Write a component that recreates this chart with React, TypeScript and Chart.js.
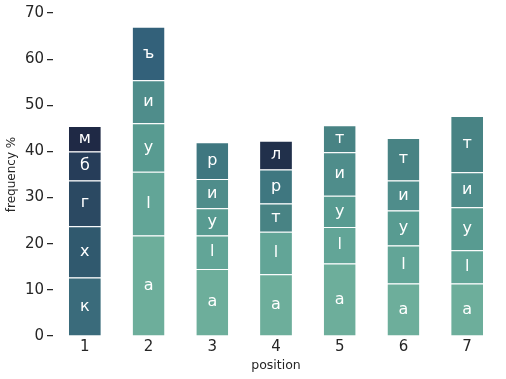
import React, { useEffect, useRef } from "react";
import { Chart, registerables } from "chart.js";

Chart.register(...registerables);

const positions = ["1", "2", "3", "4", "5", "6", "7"];

const letters0 = ["к", "а", "а", "а", "а", "а", "а"];
const values0 = [12.7, 21.8, 14.5, 13.4, 15.7, 11.4, 11.4];
const letters1 = ["х", "l", "l", "l", "l", "l", "l"];
const values1 = [11.1, 13.8, 7.3, 9.2, 7.9, 8.2, 7.2];
const letters2 = ["г", "у", "у", "т", "у", "у", "у"];
const values2 = [9.9, 10.5, 5.9, 6.1, 6.8, 7.6, 9.3];
const letters3 = ["б", "и", "и", "р", "и", "и", "и"];
const values3 = [6.3, 9.3, 6.3, 7.4, 9.4, 6.5, 7.6];
const letters4 = ["м", "ъ", "р", "л", "т", "т", "т"];
const values4 = [5.5, 11.6, 8.0, 6.2, 5.9, 9.2, 12.2];

const yTicks = [0, 10, 20, 30, 40, 50, 60, 70];

const letterColors: Record<string, string> = {
  "а": "#6dae9b",
  "l": "#62a597",
  "у": "#589b91",
  "и": "#4f8d8b",
  "т": "#488384",
  "р": "#3f7780",
  "ъ": "#33617a",
  "к": "#3a6b7b",
  "х": "#30596e",
  "г": "#2b4962",
  "б": "#263d59",
  "м": "#1f2945",
  "л": "#21304b",
};

const levels = [
  { letters: letters0, values: values0 },
  { letters: letters1, values: values1 },
  { letters: letters2, values: values2 },
  { letters: letters3, values: values3 },
  { letters: letters4, values: values4 },
];

const TEXT = "#262626";
const FONT = "'DejaVu Sans', sans-serif";

export default function App() {
  const ref = useRef<HTMLCanvasElement | null>(null);
  useEffect(() => {
    if (!ref.current) return;
    const labelPlugin = {
      id: "segLabels",
      afterDatasetsDraw(chart: any) {
        const ctx = chart.ctx;
        ctx.save();
        ctx.fillStyle = "#ffffff";
        ctx.font = `16px ${FONT}`;
        ctx.textAlign = "center";
        ctx.textBaseline = "middle";
        chart.data.datasets.forEach((ds: any, di: number) => {
          const meta = chart.getDatasetMeta(di);
          meta.data.forEach((el: any, i: number) => {
            const y = (el.y + el.base) / 2;
            ctx.fillText(ds.letters[i], el.x, y);
          });
        });
        ctx.restore();
      },
    };
    const chart = new Chart(ref.current, {
      type: "bar",
      data: {
        labels: positions,
        datasets: levels.map((lv, k) => ({
          label: "level" + k,
          data: lv.values,
          letters: lv.letters,
          backgroundColor: lv.letters.map((l) => letterColors[l]),
          borderColor: "#ffffff",
          borderWidth: { top: 1, bottom: 0, left: 0, right: 0 },
          borderSkipped: false,
          barPercentage: 0.5,
          categoryPercentage: 1,
        })) as any,
      },
      options: {
        animation: false,
        responsive: false,
        maintainAspectRatio: false,
        layout: { padding: { top: 13, right: 7, left: 0, bottom: 0 } },
        plugins: {
          legend: { display: false },
          tooltip: { enabled: false },
        },
        scales: {
          x: {
            stacked: true,
            afterFit: (s: any) => {
              s.height = 43;
            },
            grid: { display: false, drawTicks: false },
            border: { display: false },
            ticks: { color: TEXT, font: { family: FONT, size: 15 }, padding: 2 },
            title: {
              display: true,
              text: "position",
              color: TEXT,
              font: { family: FONT, size: 12.5 },
              padding: { top: 0, bottom: 6 },
            },
          },
          y: {
            stacked: true,
            min: 0,
            max: 70,
            afterFit: (s: any) => {
              s.width = 53;
            },
            afterBuildTicks: (s: any) => {
              s.ticks = yTicks.map((v) => ({ value: v }));
            },
            grid: {
              drawOnChartArea: false,
              drawTicks: true,
              tickLength: 6,
              tickColor: TEXT,
              lineWidth: 1.25,
            },
            border: { display: false },
            ticks: { color: TEXT, font: { family: FONT, size: 15 }, padding: 3 },
            title: {
              display: true,
              text: "frequency %",
              color: TEXT,
              font: { family: FONT, size: 12 },
              padding: { top: 5, bottom: 0 },
            },
          },
        },
      },
      plugins: [labelPlugin],
    });
    return () => chart.destroy();
  }, []);
  return (
    <div style={{ position: "fixed", left: 0, top: 0, width: 506, height: 379, background: "#fff" }}>
      <canvas ref={ref} width={506} height={379} style={{ width: 506, height: 379 }} />
    </div>
  );
}
